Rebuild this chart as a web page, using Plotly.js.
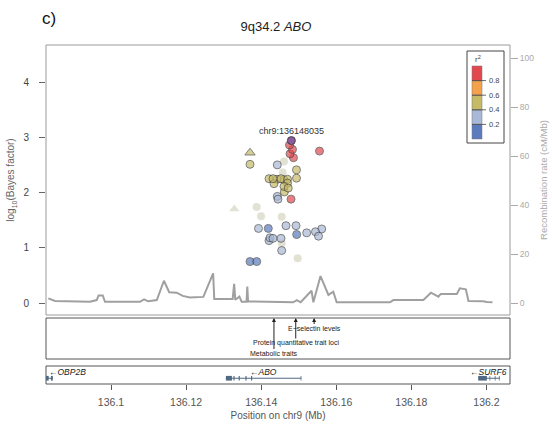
<!DOCTYPE html>
<html>
<head>
<meta charset="utf-8">
<script src="https://cdn.plot.ly/plotly-3.0.1.min.js"></script>
<style>
  html, body { margin: 0; padding: 0; background: #fff; }
  #chart { width: 552px; height: 433px; }
</style>
</head>
<body>
<div id="chart"></div>
<script>
// ---- Association results around ABO (chr9, Mb) ----
const snpPos = [
  136.14754, 136.14834, 136.14767, 136.14860, 136.15553, 136.14794,
  136.13702, 136.13702, 136.14940, 136.14940, 136.14208, 136.14314, 136.14421, 136.14527,
  136.14607, 136.14700, 136.14341, 136.14700, 136.14607, 136.14616, 136.14720,
  136.14429, 136.14429, 136.14447, 136.14660, 136.14927, 136.15212, 136.15446, 136.15611,
  136.15526, 136.13928, 136.14234, 136.14314, 136.14208, 136.14527, 136.14546,
  136.14189, 136.14945, 136.13702, 136.13880,
  136.14607, 136.14573, 136.13284, 136.13880, 136.13995, 136.14546, 136.14546, 136.14972
];
const snpLogBF = [
  2.86, 2.78, 2.70, 2.63, 2.75, 1.88,
  2.72, 2.51, 2.41, 2.26, 2.25, 2.25, 2.24, 2.25,
  2.23, 2.24, 2.16, 2.17, 2.11, 2.01, 2.08,
  2.50, 1.93, 1.88, 1.40, 1.40, 1.27, 1.29, 1.34,
  1.21, 1.35, 1.18, 1.17, 1.13, 1.17, 0.95,
  1.35, 1.24, 0.75, 0.75,
  2.56, 2.36, 1.70, 1.74, 1.57, 1.56, 1.08, 0.81
];
// r2 with the lead SNP (null: no LD information)
const snpR2 = [
  0.92, 0.90, 0.88, 0.86, 0.84, 0.82,
  0.50, 0.50, 0.45, 0.47, 0.50, 0.52, 0.50, 0.50,
  0.48, 0.50, 0.50, 0.50, 0.50, 0.45, 0.50,
  0.30, 0.28, 0.28, 0.32, 0.30, 0.33, 0.30, 0.25,
  0.30, 0.22, 0.24, 0.24, 0.22, 0.24, 0.22,
  0.10, 0.10, 0.12, 0.12,
  null, null, null, null, null, null, null, null
];
const snpShape = [
  'circle', 'circle', 'circle', 'circle', 'circle', 'circle',
  'triangle-up', 'circle', 'circle', 'circle', 'circle', 'circle', 'circle', 'circle',
  'circle', 'circle', 'circle', 'circle', 'circle', 'circle', 'circle',
  'circle', 'circle', 'circle', 'circle', 'circle', 'circle', 'circle', 'circle',
  'circle', 'circle', 'circle', 'circle', 'circle', 'circle', 'circle',
  'circle', 'circle', 'circle', 'circle',
  'circle', 'circle', 'triangle-up', 'circle', 'circle', 'circle', 'circle', 'circle'
];
const leadPos = 136.148035;
const leadLogBF = 2.94;
const leadName = 'chr9:136148035';

// ---- Recombination rate (cM/Mb) ----
const recPos = [
  136.0833, 136.0851, 136.0944, 136.0962, 136.0967, 136.0978, 136.0984, 136.1077, 136.1088, 136.1099,
  136.1122, 136.1141, 136.1155, 136.1175, 136.1191, 136.1210, 136.1246, 136.1272, 136.1275, 136.1324,
  136.1328, 136.1331, 136.1342, 136.1348, 136.1361, 136.1363, 136.1365, 136.1450, 136.1485, 136.1495,
  136.1505, 136.1534, 136.1539, 136.1558, 136.1579, 136.1592, 136.1601, 136.1743, 136.1752, 136.1832,
  136.1852, 136.1872, 136.1878, 136.1921, 136.1929, 136.1945, 136.1952, 136.1991, 136.2001, 136.2016
];
const recRate = [
  1.9, 0.8, 0.5, 1.2, 3.1, 3.1, 0.5, 0.5, 1.5, 0.7,
  1.2, 9.1, 4.4, 4.2, 2.9, 2.3, 2.5, 12.1, 1.6, 1.6,
  7.8, 1.3, 2.6, 0.5, 0.5, 6.7, 0.7, 0.4, 0.3, 1.2,
  0.3, 5.0, 0.3, 11.0, 3.3, 4.6, 0.3, 0.3, 1.2, 1.2,
  4.2, 2.6, 3.7, 3.7, 6.0, 5.6, 0.8, 0.7, 0.4, 0.3
];

// ---- GWAS catalog hits ----
const gwasPos = [136.1434, 136.1492, 136.1541];
const gwasTrait = ['Metabolic traits', 'Protein quantitative trait loci', 'E\u2212selectin levels'];

// ---- Genes (minus strand) ----
const geneNames = ['OBP2B', 'ABO', 'SURF6'];
const geneStart = [136.0820, 136.1306, 136.1978];
const geneEnd = [136.0845, 136.1507, 136.2035];
const exonStart = [
  [136.0822, 136.0840],
  [136.1306, 136.1326, 136.1340, 136.1358, 136.1373, 136.1505],
  [136.1978, 136.2008, 136.2022, 136.2033]
];
const exonEnd = [
  [136.0834, 136.0845],
  [136.1322, 136.1329, 136.1343, 136.1361, 136.1376, 136.1507],
  [136.2001, 136.2010, 136.2024, 136.2035]
];

// ---- Axes ----
const xRange = [136.08269, 136.20626];
const xTicks = [136.1, 136.12, 136.14, 136.16, 136.18, 136.2];
const xTickText = ['136.1', '136.12', '136.14', '136.16', '136.18', '136.2'];
const bfRange = [-0.217, 4.67];
const bfTicks = [0, 1, 2, 3, 4];
const recRange = [-4.9, 105.4];
const recTicks = [0, 20, 40, 60, 80, 100];

// r2 colour key
const r2Breaks = [0, 0.2, 0.4, 0.6, 0.8, 1];
const r2Colors = ['#5b7bbe', '#a9b8d6', '#c5ba66', '#f5a04a', '#e2494f'];
const r2Labels = ['0.2', '0.4', '0.6', '0.8'];
const noLDColor = '#d6d6c2';
const leadColor = '#8e5c9e';

// ---- Page geometry ----
const W = 552, H = 433;
const M = { l: 46, r: 42, t: 45, b: 49 };
const plotW = W - M.l - M.r;
const plotH = H - M.t - M.b;
const px = p => (p - M.l) / plotW;          // pixel column -> paper x
const py = p => (H - M.b - p) / plotH;      // pixel row -> paper y

const mainDom = [py(315), 1];
const annDom = [py(359), py(318)];
const geneDom = [0, py(366)];
const FONT = 'Liberation Sans, Arial, Helvetica, sans-serif';

function r2Color(r) {
  if (r === null) return noLDColor;
  for (let i = 0; i < r2Colors.length; i++) {
    if (r <= r2Breaks[i + 1]) return r2Colors[i];
  }
  return r2Colors[r2Colors.length - 1];
}

// draw low-LD points first so the high-LD ones sit on top
const order = snpPos.map((_, i) => i)
  .sort((a, b) => (snpR2[a] === null ? -1 : snpR2[a]) - (snpR2[b] === null ? -1 : snpR2[b]));

const traces = [
  {
    x: recPos, y: recRate, xaxis: 'x', yaxis: 'y',
    type: 'scatter', mode: 'lines',
    line: { color: '#a0a0a0', width: 2 },
    hoverinfo: 'skip', showlegend: false
  },
  {
    x: order.map(i => snpPos[i]),
    y: order.map(i => snpLogBF[i]),
    xaxis: 'x', yaxis: 'y2',
    type: 'scatter', mode: 'markers',
    marker: {
      symbol: order.map(i => snpShape[i]),
      size: order.map(i => snpShape[i] === 'circle' ? 8 : 9),
      color: order.map(i => r2Color(snpR2[i])),
      line: {
        color: '#3a3a3a',
        width: order.map(i => snpR2[i] === null ? 0 : 0.9)
      }
    },
    showlegend: false
  },
  {
    x: [leadPos], y: [leadLogBF], xaxis: 'x', yaxis: 'y2',
    type: 'scatter', mode: 'markers',
    marker: { symbol: 'circle', size: 8, color: leadColor, line: { color: '#3a3a3a', width: 0.9 } },
    showlegend: false
  }
];

const shapes = [];
const annotations = [];

// panel frames
shapes.push({ type: 'rect', xref: 'paper', yref: 'paper', x0: 0, x1: 1, y0: mainDom[0], y1: mainDom[1],
  line: { color: '#9a9a9a', width: 1 } });
shapes.push({ type: 'rect', xref: 'paper', yref: 'paper', x0: 0, x1: 1, y0: annDom[0], y1: annDom[1],
  line: { color: '#555', width: 1 } });
shapes.push({ type: 'rect', xref: 'paper', yref: 'paper', x0: 0, x1: 1, y0: geneDom[0], y1: geneDom[1],
  line: { color: '#555', width: 1 } });

// genes
const geneY = f => geneDom[0] + f * (geneDom[1] - geneDom[0]);
const clampX = v => Math.min(Math.max(v, xRange[0]), xRange[1]);
geneNames.forEach((g, gi) => {
  shapes.push({ type: 'line', xref: 'x', yref: 'paper',
    x0: clampX(geneStart[gi]), x1: clampX(geneEnd[gi]), y0: geneY(0.32), y1: geneY(0.32),
    line: { color: '#4f6883', width: 1 } });
  exonStart[gi].forEach((s, k) => {
    shapes.push({ type: 'rect', xref: 'x', yref: 'paper',
      x0: clampX(s), x1: clampX(exonEnd[gi][k]), y0: geneY(0.19), y1: geneY(0.45),
      line: { width: 0 }, fillcolor: '#4f6883' });
  });
  const mid = (geneStart[gi] + geneEnd[gi]) / 2;
  const nearLeft = mid - xRange[0] < 0.006;
  annotations.push({
    xref: 'x', yref: 'paper', x: nearLeft ? xRange[0] : mid, y: geneY(0.66),
    xanchor: nearLeft ? 'left' : 'center', yanchor: 'middle', xshift: nearLeft ? 1 : 0,
    text: '\u2190<i>' + g + '</i>', showarrow: false,
    font: { family: FONT, size: 8.5, color: '#222' }
  });
});

// GWAS catalog hits: label below, arrow up to the top of the panel
const labelOffset = [35, 25, 10];   // label centre below the panel top, px
gwasPos.forEach((p, i) => {
  annotations.push({
    xref: 'x', yref: 'paper', x: p, y: annDom[1],
    ax: 0, ay: labelOffset[i], text: gwasTrait[i],
    font: { family: FONT, size: 7, color: '#222' }, borderpad: 0,
    showarrow: true, arrowhead: 2, arrowsize: 0.8, arrowwidth: 1, arrowcolor: '#222', standoff: 0
  });
});

// lead SNP label
annotations.push({
  xref: 'x', yref: 'y2', x: leadPos, y: leadLogBF, yshift: 10,
  xanchor: 'center', yanchor: 'middle', text: leadName, showarrow: false,
  font: { family: FONT, size: 9, color: '#333' }
});

// panel letter
annotations.push({
  xref: 'paper', yref: 'paper', x: px(40), y: py(18), xanchor: 'left', yanchor: 'middle',
  text: 'c)', showarrow: false, font: { family: FONT, size: 17, color: '#111' }
});

// r2 key
const keyX0 = 472, keyX1 = 482, keyTop = 66, keyBot = 139;
shapes.push({ type: 'rect', xref: 'paper', yref: 'paper', x0: px(467), x1: px(504), y0: py(143), y1: py(51),
  line: { color: '#444', width: 1 }, fillcolor: '#fff' });
const segH = (keyBot - keyTop) / r2Colors.length;
r2Colors.forEach((c, i) => {
  const yb = keyBot - i * segH, yt = yb - segH;
  shapes.push({ type: 'rect', xref: 'paper', yref: 'paper', x0: px(keyX0), x1: px(keyX1), y0: py(yb), y1: py(yt),
    line: { color: '#777', width: 0.5 }, fillcolor: c });
});
r2Labels.forEach((lab, i) => {
  const yy = keyBot - (i + 1) * segH;
  shapes.push({ type: 'line', xref: 'paper', yref: 'paper', x0: px(keyX0), x1: px(486), y0: py(yy), y1: py(yy),
    line: { color: '#444', width: 0.8 } });
  annotations.push({ xref: 'paper', yref: 'paper', x: px(487), y: py(yy), xanchor: 'left', yanchor: 'middle',
    text: lab, showarrow: false, font: { family: FONT, size: 7.5, color: '#444' } });
});
annotations.push({ xref: 'paper', yref: 'paper', x: px(478), y: py(59), xanchor: 'center', yanchor: 'middle',
  text: 'r<sup>2</sup>', showarrow: false, font: { family: FONT, size: 8, color: '#444' } });

const layout = {
  width: W, height: H,
  margin: M,
  paper_bgcolor: '#fff', plot_bgcolor: 'rgba(0,0,0,0)',
  font: { family: FONT, color: '#444' },
  showlegend: false,
  title: {
    text: '9q34.2 <i>ABO</i>', font: { family: FONT, size: 13, color: '#222' },
    x: 0.5, xref: 'container', xanchor: 'center', y: 1 - 26 / H, yref: 'container', yanchor: 'middle'
  },
  xaxis: {
    domain: [0, 1], anchor: 'free', position: 0, range: xRange,
    tickmode: 'array', tickvals: xTicks, ticktext: xTickText,
    ticks: 'outside', ticklen: 5, tickwidth: 1, tickcolor: '#555', ticklabelstandoff: 3,
    showline: false, showgrid: false, zeroline: false,
    tickfont: { family: FONT, size: 10.5, color: '#555' },
    title: { text: 'Position on chr9 (Mb)', font: { family: FONT, size: 10, color: '#555' }, standoff: 5 }
  },
  yaxis: {
    domain: mainDom, anchor: 'x', side: 'right', range: recRange,
    tickmode: 'array', tickvals: recTicks,
    ticks: 'outside', ticklen: 7, tickwidth: 1, tickcolor: '#aaa',
    showline: false, showgrid: false, zeroline: false,
    tickfont: { family: FONT, size: 8.5, color: '#aaa' },
    title: { text: 'Recombination rate (cM/Mb)', font: { family: FONT, size: 9.5, color: '#aaa' }, standoff: 7 }
  },
  yaxis2: {
    overlaying: 'y', anchor: 'x', side: 'left', range: bfRange,
    tickmode: 'array', tickvals: bfTicks,
    ticks: 'outside', ticklen: 6, tickwidth: 1, tickcolor: '#666', ticklabelstandoff: 8,
    showline: false, showgrid: false, zeroline: false,
    tickfont: { family: FONT, size: 10, color: '#444' },
    title: { text: 'log<sub>10</sub>(Bayes factor)', font: { family: FONT, size: 10, color: '#666' }, standoff: 6 }
  },
  shapes: shapes,
  annotations: annotations
};

Plotly.newPlot('chart', traces, layout, { displayModeBar: false, staticPlot: true });
</script>
</body>
</html>
